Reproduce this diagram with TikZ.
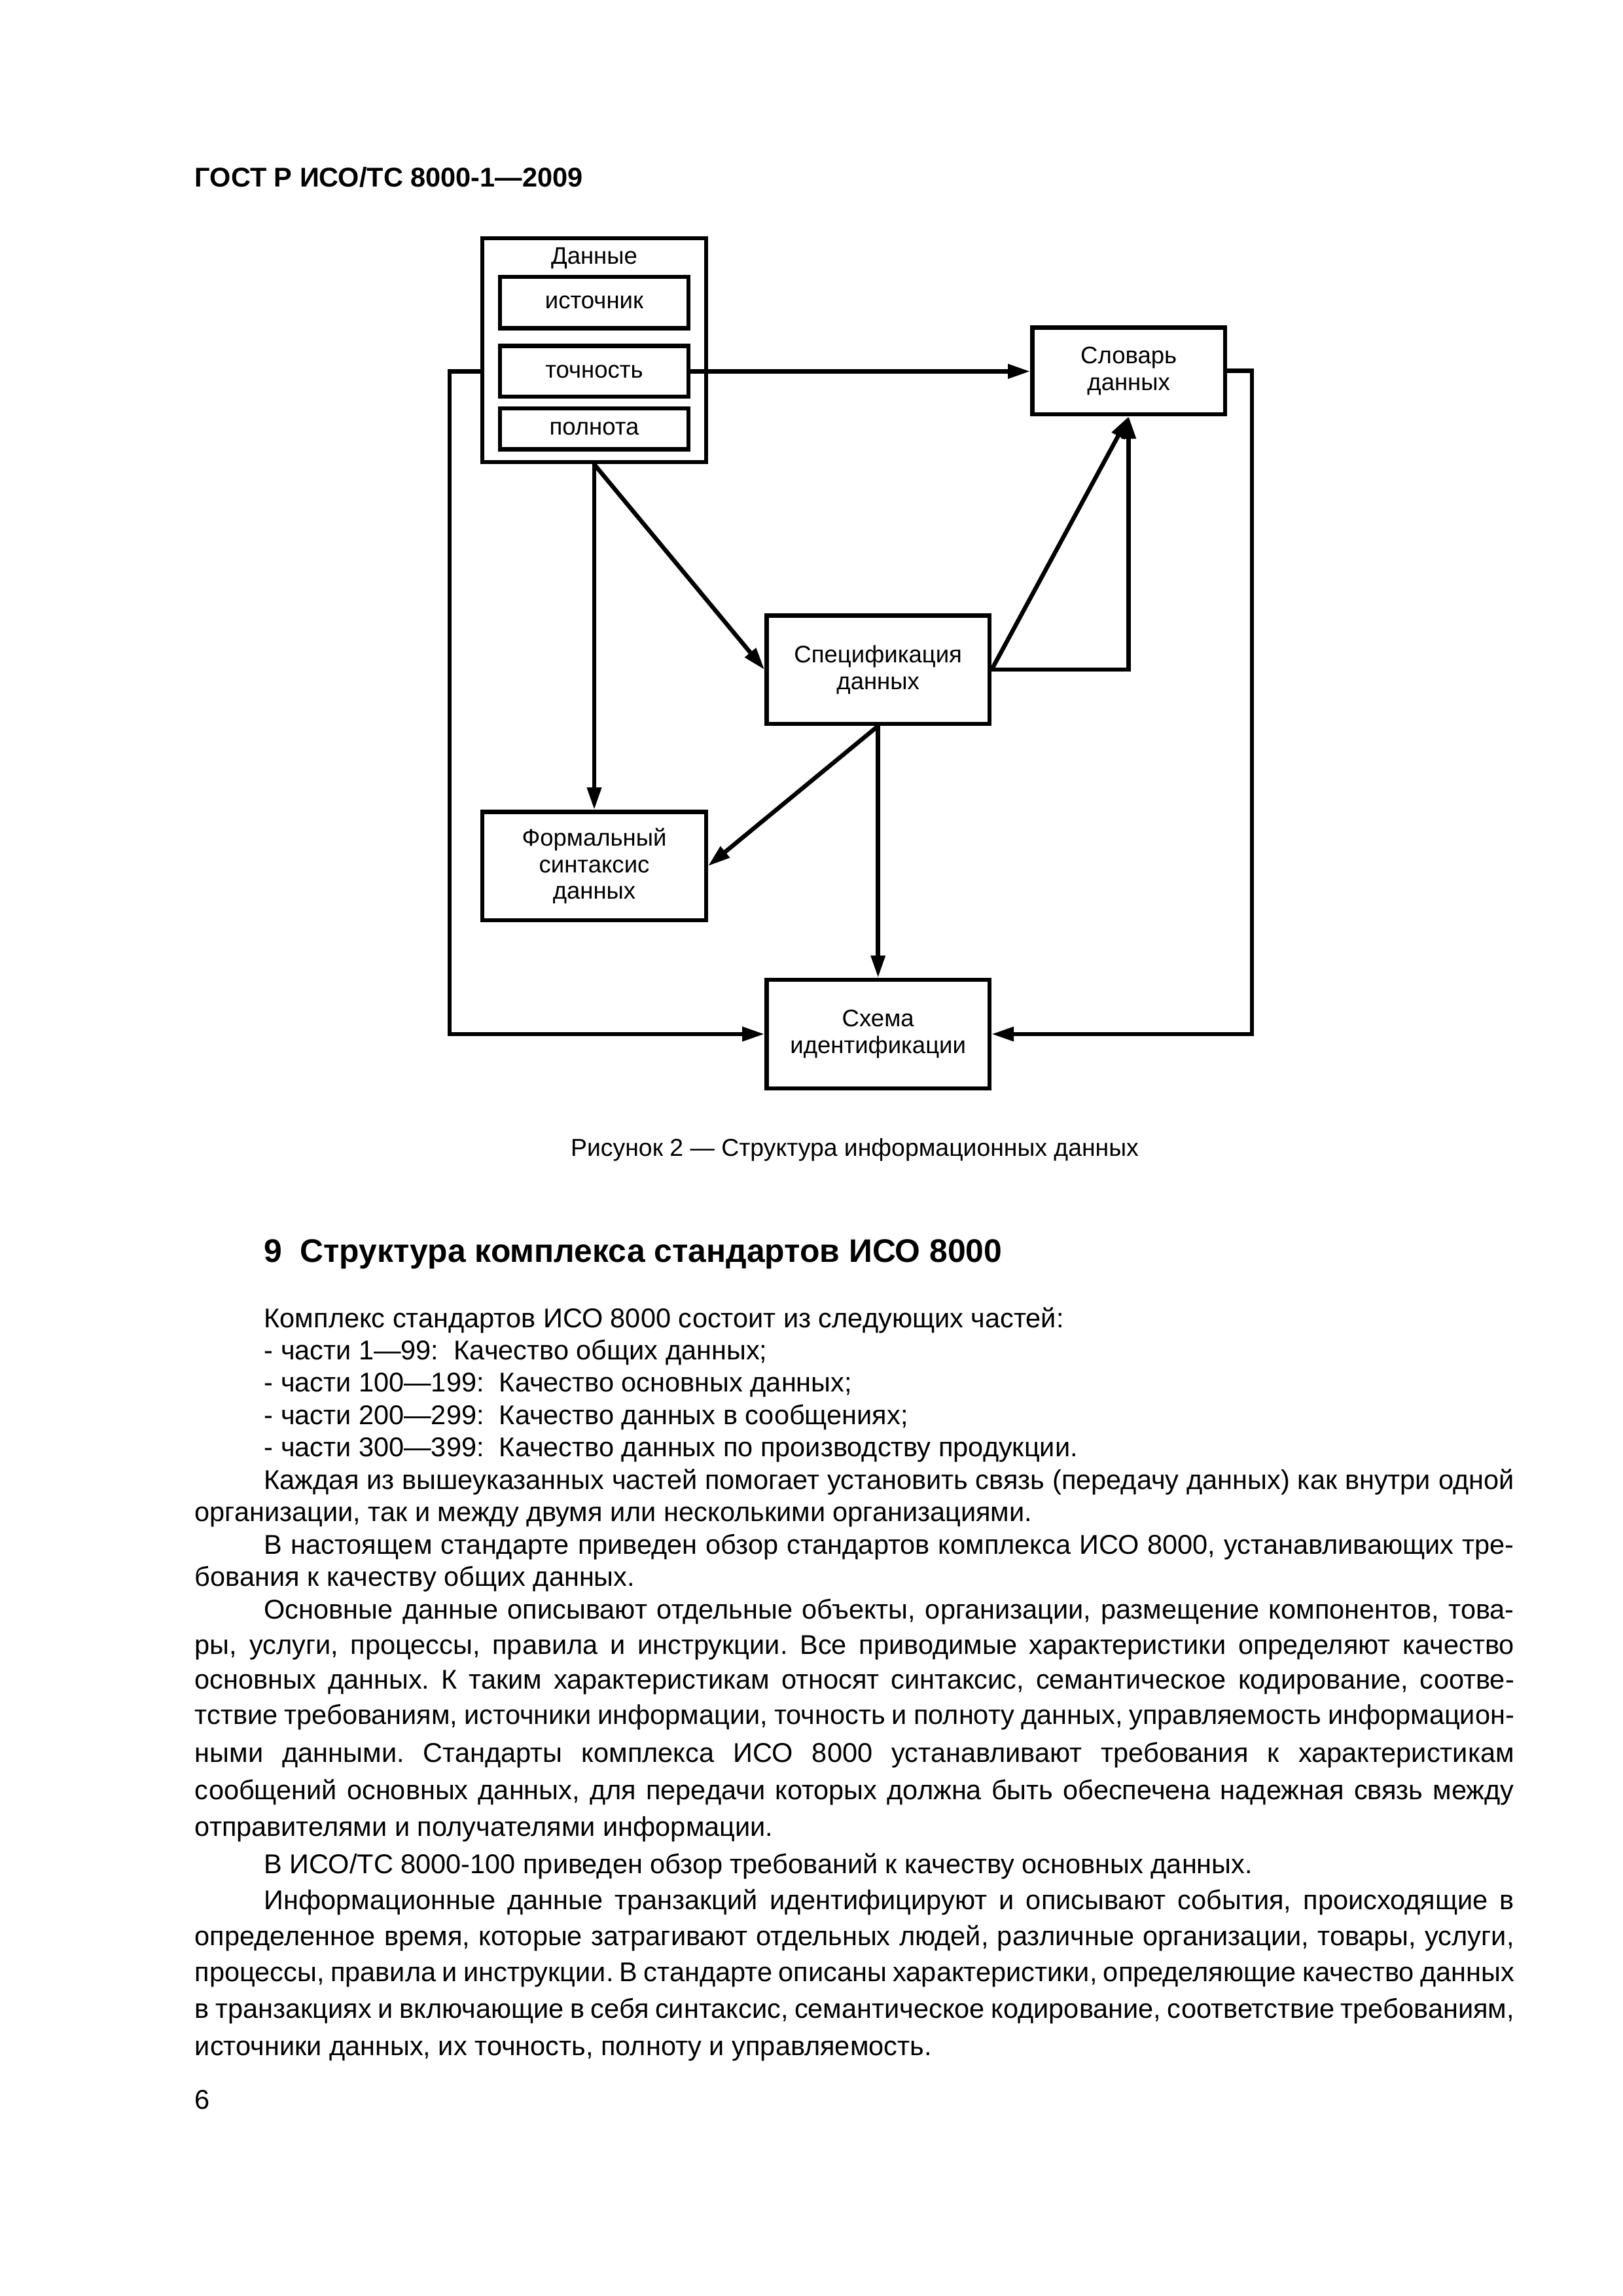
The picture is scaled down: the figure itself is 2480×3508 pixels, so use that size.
\documentclass[tikz,border=0pt]{standalone}
\usepackage{fontspec}
\setmainfont{Liberation Sans}
\usetikzlibrary{arrows.meta}
\newlength\BodyW \setlength\BodyW{485.65pt}
\newcommand\jl[1]{\hbox to \BodyW{#1}}
\newcommand\jli[1]{\hbox to \BodyW{\hskip25.5pt #1}}
\newcommand\lastl[1]{\hbox{#1}}
\newcommand\lastli[1]{\hbox{\hskip25.5pt #1}}
\newcommand\dfont{\fontsize{8.8}{9.8}\selectfont}
\tikzset{
  box/.style={draw, line width=1.52pt, inner sep=0pt, align=center, font=\dfont},
  conn/.style={line width=1.57pt},
  arr/.style={conn, -{Triangle[length=8.2pt,width=5.06pt]}},
  lbl/.style={inner sep=0pt},
  bodyline/.style={inner sep=0pt, anchor=base west,
    font={\fontsize{10}{12}\selectfont\spaceskip=0.278em plus 0.8em minus 0.22em\relax\frenchspacing}},
}
\begin{document}
\begin{tikzpicture}[x=0.2409pt,y=-0.2409pt]
\useasboundingbox (0,0) rectangle (2480,3508);
\fill[white] (0,0) rectangle (2480,3508);

\node[lbl, anchor=base west, font=\bfseries\fontsize{10}{12}\selectfont] (hdr) at (297,285) {ГОСТ Р ИСО/ТС 8000-1—2009};

% boxes
\node[box, minimum width=82.39pt, minimum height=82.53pt] (dann) at (908,535) {};
\node[lbl, anchor=base, font=\dfont] (dannl) at (908,403) {Данные};
\node[box, minimum width=69.28pt, minimum height=18.86pt] (ist) at (908,462.2) {источник};
\node[box, minimum width=69.28pt, minimum height=18.74pt] (toch) at (908,567.4) {точность};
\node[box, minimum width=69.28pt, minimum height=14.96pt] (poln) at (908,655.3) {полнота};
\node[box, minimum width=70.99pt, minimum height=31.97pt] (slov) at (1724.7,566.7) {Словарь\\данных};
\node[box, minimum width=82.07pt, minimum height=39.92pt] (spec) at (1341.7,1023.2) {Спецификация\\данных};
\node[box, minimum width=82.24pt, minimum height=39.92pt] (form) at (908,1323.2) {Формальный\\синтаксис\\данных};
\node[box, minimum width=82.07pt, minimum height=39.92pt] (skh) at (1341.7,1579.9) {Схема\\идентификации};

% connectors
\coordinate (lx) at (687,0);
\coordinate (rx) at (1913,0);
\draw[arr] (toch.east) -- (toch.east -| slov.west);
\draw[arr] (dann.west |- toch) -- (lx |- toch) |- (skh.west);
\draw[arr] (slov.east) -- (rx |- slov.east) |- (skh.east);
\draw[arr] (dann.south) -- (form.north);
\draw[arr] (dann.south) -- (spec.west);
\draw[arr] (spec.east) -- (slov.south);
\draw[arr] (spec.east) -| (slov.south);
\draw[arr] (spec.south) -- (form.east);
\draw[arr] (spec.south) -- (skh.north);

\node[lbl, anchor=base, font=\fontsize{9}{11}\selectfont] (cap) at (1306,1766) {Рисунок 2 — Структура информационных данных};

\node[lbl, anchor=base west, font=\bfseries\fontsize{12}{14}\selectfont] (sec) at (403,1928) {9\hspace{6.5pt}Структура комплекса стандартов ИСО 8000};

\node[bodyline] (b0) at (297,2028) {\lastli{Комплекс стандартов ИСО 8000 состоит из следующих частей:}};
\node[bodyline] (b1) at (297,2077.4) {\lastli{- части 1—99:\ \ Качество общих данных;}};
\node[bodyline] (b2) at (297,2126.8) {\lastli{- части 100—199:\ \ Качество основных данных;}};
\node[bodyline] (b3) at (297,2176.2) {\lastli{- части 200—299:\ \ Качество данных в сообщениях;}};
\node[bodyline] (b4) at (297,2225.6) {\lastli{- части 300—399:\ \ Качество данных по производству продукции.}};
\node[bodyline] (b5) at (297,2275) {\jli{Каждая из вышеуказанных частей помогает установить связь (передачу данных) как внутри одной}};
\node[bodyline] (b6) at (297,2324.4) {\lastl{организации, так и между двумя или несколькими организациями.}};
\node[bodyline] (b7) at (297,2374) {\jli{В настоящем стандарте приведен обзор стандартов комплекса ИСО 8000, устанавливающих тре-}};
\node[bodyline] (b8) at (297,2423.5) {\lastl{бования к качеству общих данных.}};
\node[bodyline] (b9) at (297,2473) {\jli{Основные данные описывают отдельные объекты, организации, размещение компонентов, това-}};
\node[bodyline] (b10) at (297,2527) {\jl{ры, услуги, процессы, правила и инструкции. Все приводимые характеристики определяют качество}};
\node[bodyline] (b11) at (297,2580) {\jl{основных данных. К таким характеристикам относят синтаксис, семантическое кодирование, соотве-}};
\node[bodyline] (b12) at (297,2634) {\jl{тствие требованиям, источники информации, точность и полноту данных, управляемость информацион-}};
\node[bodyline] (b13) at (297,2692) {\jl{ными данными. Стандарты комплекса ИСО 8000 устанавливают требования к характеристикам}};
\node[bodyline] (b14) at (297,2749) {\jl{сообщений основных данных, для передачи которых должна быть обеспечена надежная связь между}};
\node[bodyline] (b15) at (297,2805) {\lastl{отправителями и получателями информации.}};
\node[bodyline] (b16) at (297,2862) {\lastli{В ИСО/ТС 8000-100 приведен обзор требований к качеству основных данных.}};
\node[bodyline] (b17) at (297,2917) {\jli{Информационные данные транзакций идентифицируют и описывают события, происходящие в}};
\node[bodyline] (b18) at (297,2972) {\jl{определенное время, которые затрагивают отдельных людей, различные организации, товары, услуги,}};
\node[bodyline] (b19) at (297,3027) {\jl{процессы, правила и инструкции. В стандарте описаны характеристики, определяющие качество данных}};
\node[bodyline] (b20) at (297,3083) {\jl{в транзакциях и включающие в себя синтаксис, семантическое кодирование, соответствие требованиям,}};
\node[bodyline] (b21) at (297,3140) {\lastl{источники данных, их точность, полноту и управляемость.}};

\node[lbl, anchor=base west, font=\fontsize{10}{12}\selectfont] (pnum) at (297,3222) {6};
\end{tikzpicture}
\end{document}
